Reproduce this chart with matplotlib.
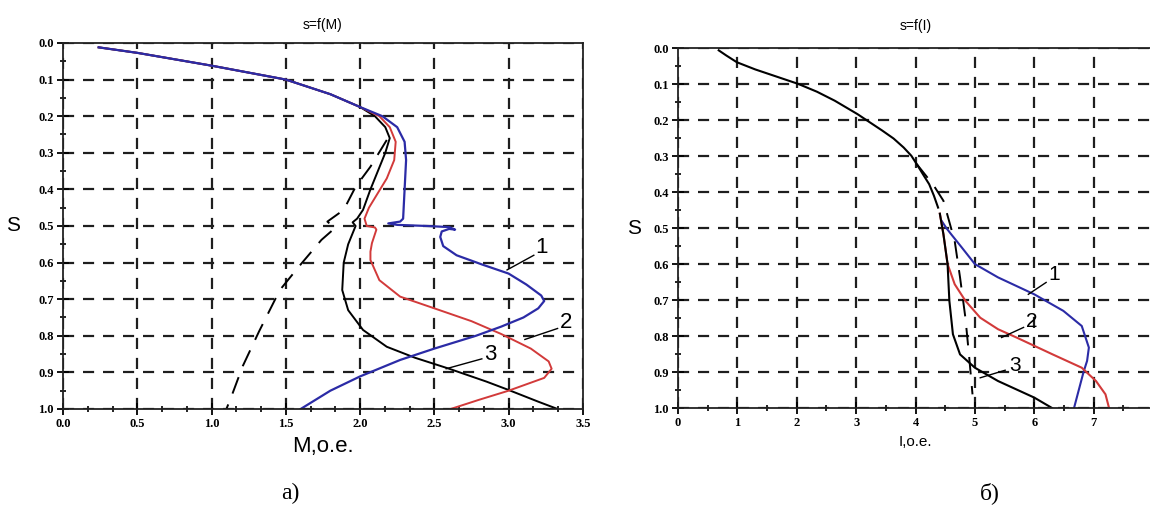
import matplotlib
matplotlib.use("Agg")
import matplotlib.pyplot as plt
from matplotlib.ticker import MultipleLocator, FormatStrFormatter

# s = f(M): common start, then curves 1..3 and the dashed curve
m_common = [0.24, 0.5, 1.0, 1.5, 1.8, 2.0]
s_common = [0.012, 0.027, 0.062, 0.1, 0.14, 0.175]

m_curve1 = [2.15, 2.25, 2.3, 2.31, 2.3, 2.29, 2.27, 2.19, 2.25, 2.45, 2.6, 2.64, 2.6, 2.55,
            2.54, 2.56, 2.65, 2.82, 3.0, 3.12, 3.22, 3.24, 3.2, 3.1, 2.95, 2.78, 2.5, 2.27,
            2.0, 1.8, 1.6]
s_curve1 = [0.2, 0.23, 0.27, 0.32, 0.4, 0.48, 0.488, 0.493, 0.497, 0.5, 0.503, 0.51, 0.508,
            0.515, 0.53, 0.555, 0.58, 0.605, 0.63, 0.66, 0.69, 0.705, 0.725, 0.75, 0.775,
            0.8, 0.835, 0.866, 0.911, 0.95, 1.0]

m_curve2 = [2.13, 2.2, 2.24, 2.23, 2.18, 2.12, 2.06, 2.03, 2.045, 2.1, 2.11, 2.08, 2.07,
            2.07, 2.13, 2.27, 2.5, 2.75, 2.95, 3.15, 3.27, 3.29, 3.24, 3.0, 2.8, 2.61]
s_curve2 = [0.2, 0.23, 0.27, 0.32, 0.37, 0.41, 0.45, 0.48, 0.5, 0.504, 0.51, 0.547, 0.57,
            0.593, 0.648, 0.693, 0.725, 0.76, 0.795, 0.835, 0.87, 0.89, 0.915, 0.95, 0.975, 1.0]

m_curve3 = [2.1, 2.17, 2.2, 2.17, 2.12, 2.07, 2.02, 1.98, 1.95, 1.97, 1.96, 1.92, 1.89,
            1.88, 1.92, 2.02, 2.18, 2.37, 2.6, 2.85, 3.0, 3.2, 3.33]
s_curve3 = [0.2, 0.23, 0.26, 0.3, 0.35, 0.4, 0.456, 0.48, 0.49, 0.5, 0.51, 0.55, 0.6,
            0.675, 0.73, 0.784, 0.83, 0.86, 0.89, 0.925, 0.948, 0.98, 1.0]

m_dash = [2.18, 2.07, 1.97, 1.89, 1.78, 1.83, 1.74, 1.59, 1.46, 1.32, 1.21, 1.13, 1.10]
s_dash = [0.265, 0.338, 0.393, 0.456, 0.488, 0.506, 0.538, 0.61, 0.675, 0.788, 0.883, 0.97, 1.0]

# s = f(I)
i_common = [0.685, 0.81, 0.99, 1.3, 1.66, 2.02, 2.34, 2.64, 3.02, 3.44, 3.63, 3.8, 3.93,
            4.02, 4.12, 4.23, 4.31, 4.38]
si_common = [0.006, 0.02, 0.039, 0.059, 0.079, 0.099, 0.121, 0.146, 0.183, 0.229, 0.251,
             0.276, 0.299, 0.322, 0.349, 0.378, 0.41, 0.443]

i_curve1 = [4.44, 4.52, 4.6, 4.78, 5.0, 5.39, 6.0, 6.49, 6.8, 6.92, 6.89, 6.83, 6.67]
si_curve1 = [0.48, 0.5, 0.517, 0.554, 0.6, 0.637, 0.684, 0.73, 0.772, 0.832, 0.869, 0.9, 1.0]

i_curve2 = [4.41, 4.47, 4.54, 4.66, 4.84, 5.09, 5.39, 5.7, 6.31, 6.8, 7.04, 7.2, 7.26]
si_curve2 = [0.46, 0.517, 0.6, 0.656, 0.702, 0.749, 0.781, 0.804, 0.851, 0.888, 0.925, 0.962, 1.0]

i_curve3 = [4.41, 4.47, 4.54, 4.57, 4.63, 4.75, 5.0, 5.39, 6.0, 6.3]
si_curve3 = [0.46, 0.517, 0.6, 0.702, 0.795, 0.851, 0.888, 0.925, 0.971, 1.0]

i_dash = [4.02, 4.3, 4.47, 4.66, 4.75, 4.84, 4.9, 4.96]
si_dash = [0.322, 0.38, 0.424, 0.536, 0.637, 0.749, 0.851, 0.962]

blue = "#2b2ba6"
red = "#d23a3a"

fig = plt.figure(figsize=(11.5, 5.17), dpi=100)
ax1 = fig.add_axes([0.0548, 0.2089, 0.452, 0.708])
ax2 = fig.add_axes([0.5896, 0.2108, 0.413, 0.696])


def style_axes(ax):
    ax.set_ylim(1.0, 0.0)
    ax.yaxis.set_major_locator(MultipleLocator(0.1))
    ax.yaxis.set_minor_locator(MultipleLocator(0.05))
    ax.yaxis.set_major_formatter(FormatStrFormatter("%.1f"))
    ax.grid(True, which="major", color="#1e1e1e", linestyle=(0, (5, 4)), linewidth=1.6)
    ax.tick_params(which="major", direction="inout", length=9, width=1.3, pad=2)
    ax.tick_params(which="minor", direction="inout", length=4, width=1.2)
    ax.tick_params(top=False, right=False, which="both")
    for sp in ax.spines.values():
        sp.set_linewidth(1.3)
        sp.set_color("#222222")
    for lab in ax.get_xticklabels() + ax.get_yticklabels():
        lab.set_fontfamily("Liberation Serif")
        lab.set_fontweight("bold")
        lab.set_fontsize(9)


# left panel
ax1.set_xlim(0.0, 3.5)
ax1.xaxis.set_major_locator(MultipleLocator(0.5))
ax1.xaxis.set_minor_locator(MultipleLocator(0.5 / 3))
ax1.xaxis.set_major_formatter(FormatStrFormatter("%.1f"))
style_axes(ax1)

ax1.plot(m_dash, s_dash, color="black", lw=1.4, linestyle=(0, (9, 6)))
ax1.plot(m_common + m_curve3, s_common + s_curve3, color="black", lw=1.4)
ax1.plot(m_common + m_curve2, s_common + s_curve2, color=red, lw=1.4)
ax1.plot(m_common + m_curve1, s_common + s_curve1, color=blue, lw=1.6)

ax1.plot([3.17, 2.99], [0.58, 0.62], color="black", lw=1)
ax1.text(3.22, 0.56, "1", fontsize=16, family="Liberation Sans", ha="center", va="center")
ax1.plot([3.33, 3.11], [0.78, 0.81], color="black", lw=1)
ax1.text(3.39, 0.765, "2", fontsize=16, family="Liberation Sans", ha="center", va="center")
ax1.plot([2.82, 2.58], [0.863, 0.89], color="black", lw=1)
ax1.text(2.88, 0.852, "3", fontsize=16, family="Liberation Sans", ha="center", va="center")

ax1.set_title("s=f(M)", fontsize=10, family="Liberation Sans", pad=10)
ax1.set_xlabel("M,о.е.", fontsize=16, family="Liberation Sans", labelpad=4)
ax1.set_ylabel("S", fontsize=15, family="Liberation Sans", rotation=0, labelpad=18, va="center")

# right panel
ax2.set_xlim(0, 8)
ax2.xaxis.set_major_locator(MultipleLocator(1))
ax2.xaxis.set_minor_locator(MultipleLocator(0.5))
ax2.xaxis.set_major_formatter(FormatStrFormatter("%d"))
style_axes(ax2)

ax2.plot(i_dash, si_dash, color="black", lw=1.4, linestyle=(0, (9, 6)))
ax2.plot(i_curve1, si_curve1, color=blue, lw=1.5)
ax2.plot(i_curve2, si_curve2, color=red, lw=1.5)
ax2.plot(i_curve3, si_curve3, color="black", lw=1.5)
ax2.plot(i_common, si_common, color="black", lw=1.5)

ax2.plot([6.2, 5.9], [0.651, 0.684], color="black", lw=1)
ax2.text(6.34, 0.628, "1", fontsize=15, family="Liberation Sans", ha="center", va="center")
ax2.plot([5.82, 5.45], [0.776, 0.804], color="black", lw=1)
ax2.text(5.96, 0.76, "2", fontsize=15, family="Liberation Sans", ha="center", va="center")
ax2.plot([5.51, 5.09], [0.895, 0.916], color="black", lw=1)
ax2.text(5.68, 0.882, "3", fontsize=15, family="Liberation Sans", ha="center", va="center")

ax2.set_title("s=f(I)", fontsize=10, family="Liberation Sans", pad=13)
ax2.set_xlabel("I,о.е.", fontsize=11, family="Liberation Sans", labelpad=4)
ax2.set_ylabel("S", fontsize=15, family="Liberation Sans", rotation=0, labelpad=14, va="center")

fig.text(290 / 1150, 1 - 493 / 517, "а)", fontsize=17, family="Liberation Serif",
         ha="center", va="center")
fig.text(990 / 1150, 1 - 493 / 517, "б)", fontsize=17, family="Liberation Serif",
         ha="center", va="center")

fig.savefig("out.png", dpi=100)
